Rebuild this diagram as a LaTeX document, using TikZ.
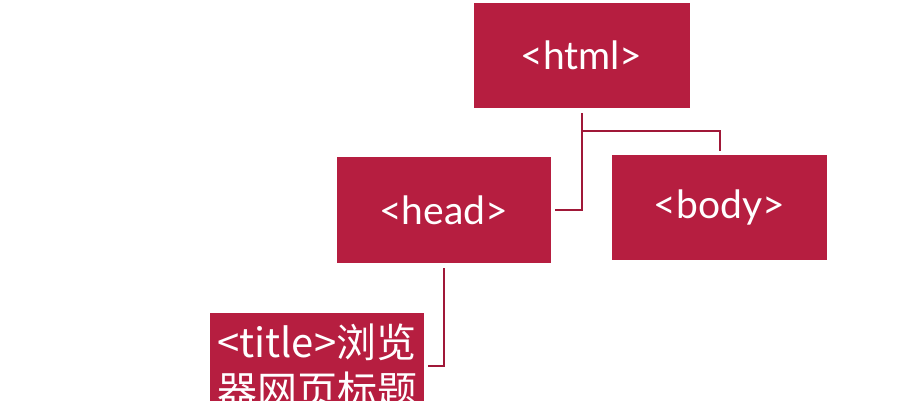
\documentclass[tikz,border=0pt]{standalone}
\usepackage{fontspec}
\setmainfont{Lato}
\newfontfamily\cjk{Noto Sans CJK SC}
\usetikzlibrary{calc}
\definecolor{tagred}{RGB}{182,30,64}
\definecolor{linkred}{RGB}{160,24,56}
\tikzset{
	tagbox/.style={fill=tagred, text=white, minimum width=214, minimum height=106,
		inner sep=0pt, font=\fontsize{39}{46}\selectfont},
	link/.style={draw=linkred, line width=2pt, shorten <=5pt, shorten >=4pt},
}
\begin{document}
\begin{tikzpicture}[x=1pt, y=-1pt]
	\clip (0,0) rectangle (899,400);
	\fill[white] (0,0) rectangle (899,400);
	\node[tagbox, minimum width=216, minimum height=105] (html) at (581.5,55.5) {<html>};
	\node[tagbox] (head) at (443.5,210) {<head>};
	\node[tagbox, minimum width=215, minimum height=105] (body) at (719.5,207.5) {<body>};
	\node[tagbox, anchor=north west, text width=200, align=left, inner xsep=6pt, inner ysep=0pt,
		font=\cjk\fontsize{40}{48}\selectfont] (title) at (210,313) {<title>浏览\\器网页标题};
	
	\coordinate (fork) at ($(html.south)+(0,23)$);
	\draw[link] (html.south) |- (head.east);
	\draw[link, shorten <=0pt] (fork) -| (body.north);
	\draw[link] (head.south) |- (title.east);
\end{tikzpicture}
\end{document}
